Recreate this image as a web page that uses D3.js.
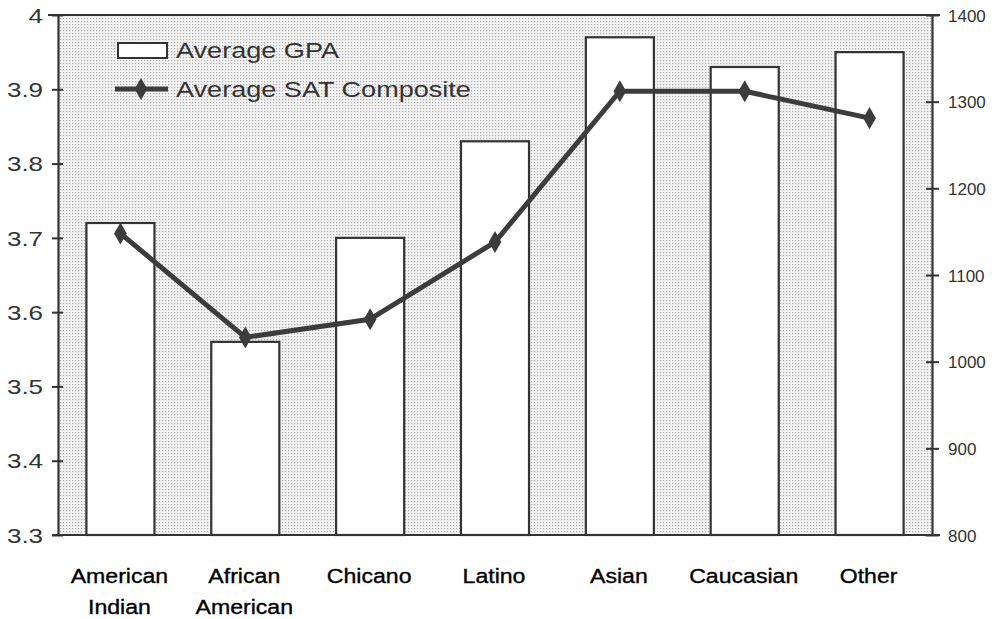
<!DOCTYPE html>
<html><head><meta charset="utf-8">
<script src="https://cdn.jsdelivr.net/npm/d3@7"></script>
<style>body{margin:0;background:#fff}svg{display:block}</style>
</head><body>
<svg id="c" width="996" height="619"></svg>
<script>
const categories = [["American","Indian"],["African","American"],["Chicano"],["Latino"],["Asian"],["Caucasian"],["Other"]];
const gpaValues = [3.72, 3.56, 3.70, 3.83, 3.97, 3.93, 3.95];
const satValues = [1148, 1028, 1049, 1138, 1312, 1312, 1281];
const gpaTicks = [3.3, 3.4, 3.5, 3.6, 3.7, 3.8, 3.9, 4];
const satTicks = [800, 900, 1000, 1100, 1200, 1300, 1400];
const legendLabels = ["Average GPA", "Average SAT Composite"];

const FONT = "Liberation Sans, Arial, sans-serif";
const svg = d3.select("#c");
const L = 58, R = 932, T = 15, B = 535;
const names = categories.map(d => d.join(" "));
const x = d3.scaleBand().domain(names).range([L, R]).paddingInner(0.455).paddingOuter(0.2275);
const yL = d3.scaleLinear().domain([3.3, 4]).range([B, T]);
const yR = d3.scaleLinear().domain([800, 1400]).range([B, T]);

const defs = svg.append("defs");
const pat = defs.append("pattern").attr("id","dots").attr("width",3).attr("height",3).attr("patternUnits","userSpaceOnUse");
pat.append("rect").attr("width",3).attr("height",3).attr("fill","#f2f2f2");
pat.append("rect").attr("width",1.2).attr("height",1.2).attr("fill","#adadad");

svg.append("rect").attr("x",L).attr("y",T).attr("width",R-L).attr("height",B-T).attr("fill","url(#dots)");

// bars
svg.selectAll(".bar").data(gpaValues).enter().append("rect")
  .attr("x",(d,i)=>x(names[i])).attr("width",x.bandwidth())
  .attr("y",d=>yL(d)).attr("height",d=>B-yL(d))
  .attr("fill","#fff").attr("stroke","#333").attr("stroke-width",2.2);

// axes
const axL = svg.append("g").attr("transform",`translate(${L},0)`)
  .call(d3.axisLeft(yL).tickValues(gpaTicks).tickFormat(d3.format("")).tickSize(6).tickSizeOuter(0));
const axR = svg.append("g").attr("transform",`translate(${R},0)`)
  .call(d3.axisRight(yR).tickValues(satTicks).tickFormat(d3.format("d")).tickSize(7).tickSizeOuter(0));
[axL, axR].forEach(a => {
  a.select(".domain").attr("stroke","#333").attr("stroke-width",2.2);
  a.selectAll(".tick line").attr("stroke","#333").attr("stroke-width",2);
});
axL.selectAll(".tick line").attr("x1",5);
axR.selectAll(".tick line").attr("x1",-6);
axL.selectAll(".tick text").attr("x",-11.5).attr("dy","0.36em").attr("transform","scale(1.3,1)")
  .attr("font-family",FONT).attr("font-size",20).attr("fill","#333");
axR.selectAll(".tick text").attr("x",16).attr("dy","0.36em")
  .attr("font-family",FONT).attr("font-size",17).attr("fill","#333");
// top and bottom lines
svg.append("line").attr("x1",L-10).attr("x2",R+8).attr("y1",T).attr("y2",T).attr("stroke","#333").attr("stroke-width",2.2);
svg.append("line").attr("x1",L-6).attr("x2",R+8).attr("y1",B).attr("y2",B).attr("stroke","#333").attr("stroke-width",2.2);

// line
const line = d3.line().x((d,i)=>x(names[i])+x.bandwidth()/2).y(d=>yR(d));
svg.append("path").datum(satValues).attr("d",line).attr("fill","none").attr("stroke","#3c3c3c").attr("stroke-width",5).attr("stroke-linejoin","round");
const diamond = d3.symbol().type(d3.symbolDiamond).size(140);
svg.selectAll(".pt").data(satValues).enter().append("path")
  .attr("d",diamond).attr("fill","#3c3c3c")
  .attr("transform",(d,i)=>`translate(${x(names[i])+x.bandwidth()/2},${yR(d)})`);

// category labels
const cl = svg.selectAll(".cat").data(categories).enter().append("text")
  .attr("text-anchor","middle").attr("font-family",FONT).attr("font-size",21).attr("fill","#000")
  .attr("stroke","#000").attr("stroke-width",0.35)
  .attr("transform",(d,i)=>`translate(${x(names[i])+x.bandwidth()/2-1},583) scale(1.1,1)`);
cl.selectAll("tspan").data(d=>d).enter().append("tspan").attr("x",0).attr("y",(d,i)=>i*31).text(d=>d);

// legend
const lg = svg.append("g");
lg.append("rect").attr("x",118).attr("y",43).attr("width",49).attr("height",15).attr("fill","#fff").attr("stroke","#333").attr("stroke-width",2);
lg.append("text").attr("transform","translate(176,58) scale(1.26,1)").text(legendLabels[0]);
lg.append("line").attr("x1",115).attr("x2",168).attr("y1",89).attr("y2",89).attr("stroke","#3c3c3c").attr("stroke-width",5);
lg.append("path").attr("d",diamond).attr("fill","#3c3c3c").attr("transform","translate(141,89)");
lg.append("text").attr("transform","translate(176,97) scale(1.26,1)").text(legendLabels[1]);
lg.selectAll("text").attr("font-family",FONT).attr("font-size",21.5).attr("fill","#333");
</script>
</body></html>
